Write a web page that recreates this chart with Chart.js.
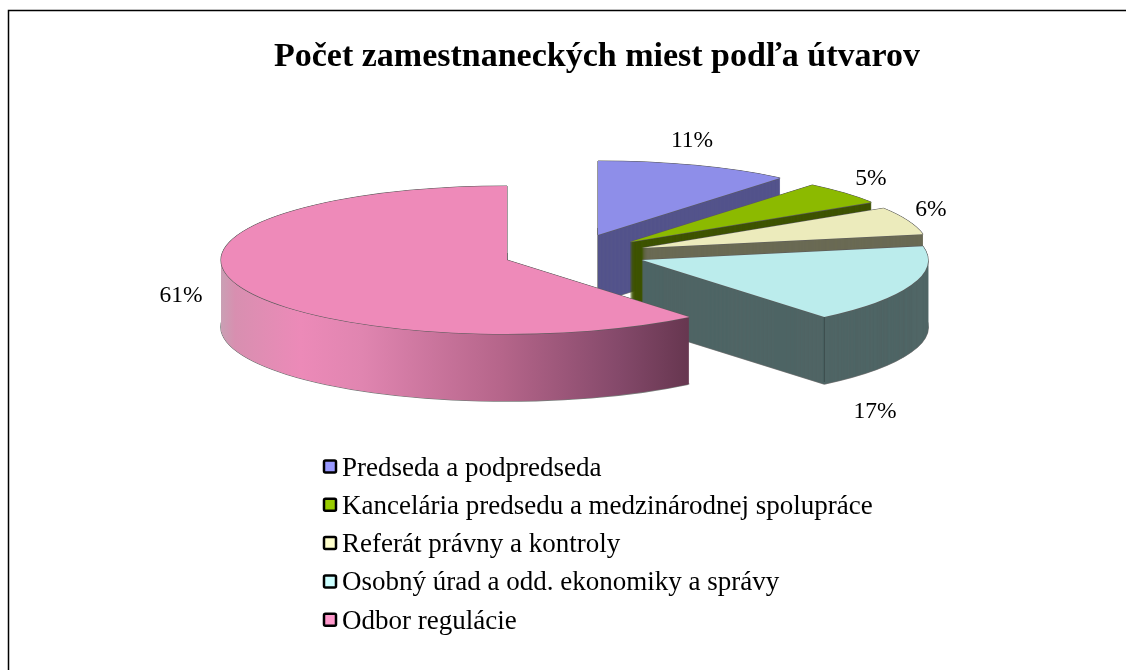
<!DOCTYPE html>
<html>
<head>
<meta charset="utf-8">
<style>
  body { margin: 0; background: #fff; }
  canvas { display: block; }
</style>
<script src="https://cdn.jsdelivr.net/npm/chart.js@4"></script>
</head>
<body>
<canvas id="chart" width="1126" height="670"></canvas>
<script>
const categories = [
  "Predseda a podpredseda",
  "Kancelária predsedu a medzinárodnej spolupráce",
  "Referát právny a kontroly",
  "Osobný úrad a odd. ekonomiky a správy",
  "Odbor regulácie",
];
const values = [11, 5, 6, 17, 61];

const topColors = ["#8e8ee9", "#8cba00", "#ecebbc", "#bbecec", "#ee8ab9"];
const wallColors = ["#55558c", "#3f5400", "#6b6b55", "#506666", "#ee8ab9"];
const legendColors = ["#9999ff", "#99cc00", "#ffffcc", "#ccffff", "#ff99cc"];

// where each exploded slice sits on the page, and its label
const RX = 286;
const RY = 74;
const DEPTH = 67;
const sliceCenters = [
  [598, 235],
  [630, 242],
  [642, 248],
  [642, 260],
  [507, 260],
];
const labelSpots = [
  [692, 141],
  [871, 179],
  [931, 210],
  [875, 412],
  [181, 296],
];

const SERIF = '"Liberation Serif", "Times New Roman", serif';

// runs a draw callback with the context squashed so the arc lands on its ellipse
function withSliceTransform(ctx, arc, center, dx, dy, fn) {
  ctx.save();
  ctx.translate(center[0] + dx, center[1] + dy);
  ctx.scale(RX / arc.outerRadius, RY / arc.outerRadius);
  ctx.translate(-arc.x, -arc.y);
  fn();
  ctx.restore();
}

function drawArc(ctx, arc, color) {
  const saved = arc.options;
  const opts = Object.create(saved);
  Object.defineProperty(opts, "backgroundColor", { value: color });
  Object.defineProperty(opts, "borderWidth", { value: 0 });
  arc.options = opts;
  arc.draw(ctx);
  arc.options = saved;
}

function pinkWallGradient(ctx, arc, center) {
  // gradient stops are screen x, converted to the arc's own unscaled space
  const k = arc.outerRadius / RX;
  const toLocal = (x) => arc.x + (x - center[0]) * k;
  const g = ctx.createLinearGradient(toLocal(221), 0, toLocal(690), 0);
  g.addColorStop(0, "#c9a0b4");
  g.addColorStop(0.03, "#d88fb0");
  g.addColorStop(0.17, "#ec8ab8");
  g.addColorStop(0.3, "#e085b0");
  g.addColorStop(0.6, "#b5658a");
  g.addColorStop(0.85, "#84496a");
  g.addColorStop(1, "#66364f");
  return g;
}

const pie3d = {
  id: "pie3d",
  beforeDatasetsDraw(chart) {
    const { ctx } = chart;
    const arcs = chart.getDatasetMeta(0).data;

    arcs.forEach((arc, i) => {
      const center = sliceCenters[i];

      // side wall: the same arc stacked downwards, edge first
      [[-0.8, 0], [0.8, 0], [0, 0.8]].forEach(([ex, ey]) => {
        withSliceTransform(ctx, arc, center, ex, DEPTH + ey, () => drawArc(ctx, arc, "#7a7a7a"));
      });
      for (let d = DEPTH; d > 0; d -= 0.25) {
        withSliceTransform(ctx, arc, center, 0, d, () => {
          const color = i === 4 ? pinkWallGradient(ctx, arc, center) : wallColors[i];
          drawArc(ctx, arc, color);
        });
      }

      // thin dark edge round the top face
      [[-0.6, 0], [0.6, 0], [0, -0.6], [0, 0.6]].forEach(([ex, ey]) => {
        withSliceTransform(ctx, arc, center, ex, ey, () => drawArc(ctx, arc, "#5c5c5c"));
      });
      withSliceTransform(ctx, arc, center, 0, 0, () => drawArc(ctx, arc, topColors[i]));

      // corner line on the cyan slice's wall
      if (i === 3) {
        const a = arc.endAngle;
        const x = center[0] + Math.cos(a) * RX;
        const y = center[1] + Math.sin(a) * RY;
        ctx.save();
        ctx.strokeStyle = "#3a4a4a";
        ctx.lineWidth = 1;
        ctx.beginPath();
        ctx.moveTo(x, y);
        ctx.lineTo(x, y + DEPTH - 2);
        ctx.stroke();
        ctx.restore();
      }
    });
    return false;
  },
  afterDraw(chart) {
    const { ctx } = chart;
    ctx.save();

    // frame: only the left and top lines show in the picture
    ctx.strokeStyle = "#000";
    ctx.lineWidth = 1.5;
    ctx.beginPath();
    ctx.moveTo(8.5, 670);
    ctx.lineTo(8.5, 10.5);
    ctx.lineTo(1126, 10.5);
    ctx.stroke();

    // percentage labels
    ctx.fillStyle = "#000";
    ctx.font = "23.5px " + SERIF;
    ctx.textAlign = "center";
    ctx.textBaseline = "middle";
    values.forEach((v, i) => {
      ctx.fillText(v + "%", labelSpots[i][0], labelSpots[i][1]);
    });

    // legend column
    ctx.font = "27px " + SERIF;
    ctx.textAlign = "left";
    categories.forEach((name, i) => {
      const y = 467 + i * 38.3;
      ctx.fillStyle = legendColors[i];
      ctx.strokeStyle = "#000";
      ctx.lineWidth = 2.5;
      ctx.beginPath();
      ctx.roundRect(324, y - 6.5, 12, 12, 1.5);
      ctx.fill();
      ctx.stroke();
      ctx.fillStyle = "#000";
      ctx.fillText(name, 342, y + 1.5);
    });
    ctx.restore();
  },
};

new Chart(document.getElementById("chart"), {
  type: "pie",
  data: {
    labels: categories,
    datasets: [{ data: values, backgroundColor: topColors }],
  },
  options: {
    responsive: false,
    animation: false,
    layout: { padding: { left: 68, top: 37 } },
    plugins: {
      legend: { display: false },
      tooltip: { enabled: false },
      title: {
        display: true,
        text: "Počet zamestnaneckých miest podľa útvarov",
        color: "#000",
        font: { family: SERIF, size: 34, weight: "bold" },
        padding: { top: 0, bottom: 10 },
      },
    },
  },
  plugins: [pie3d],
});
</script>
</body>
</html>
